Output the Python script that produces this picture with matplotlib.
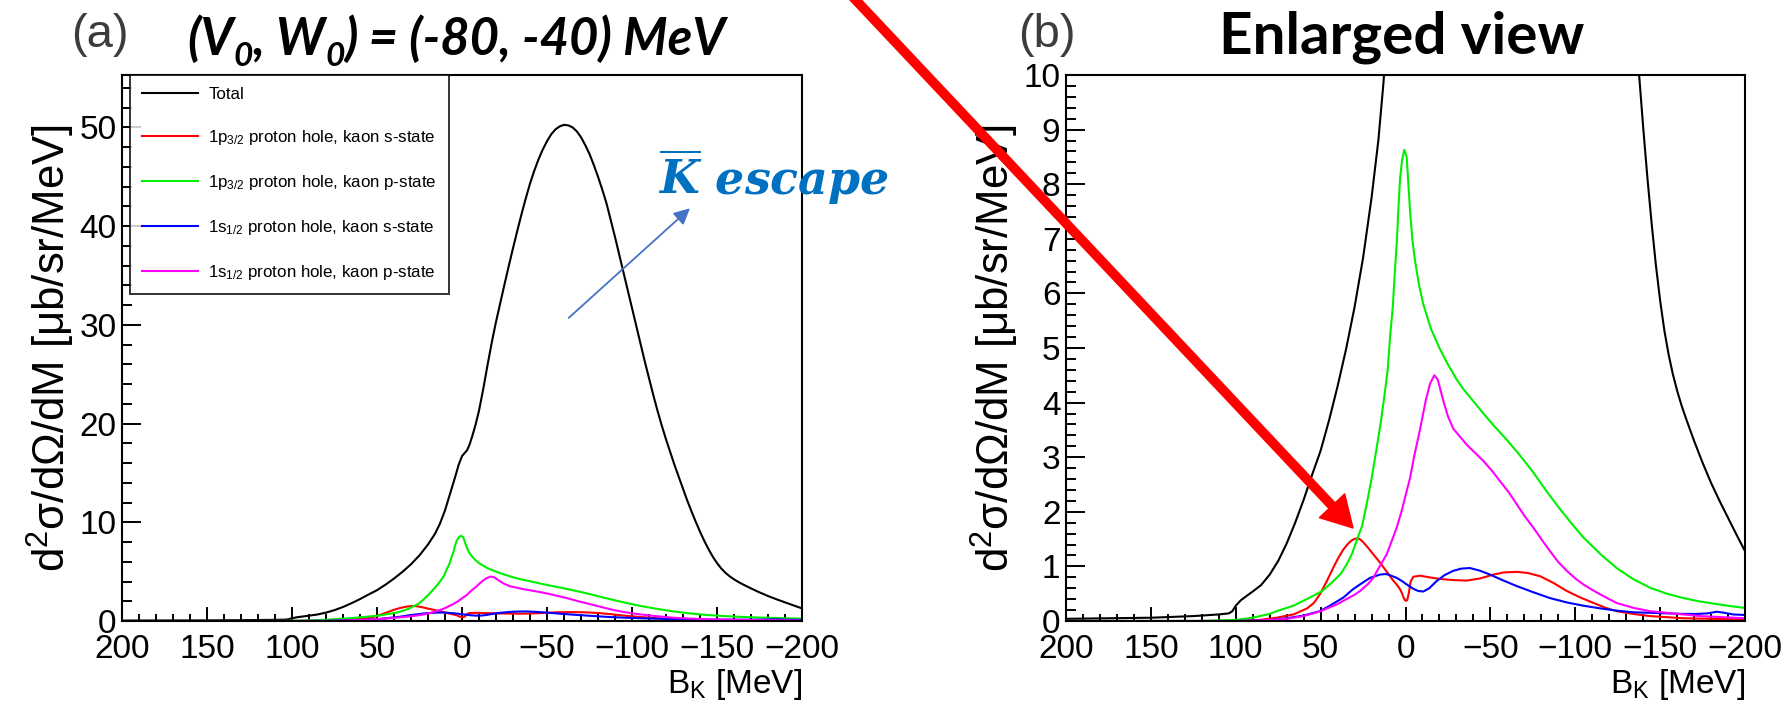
import numpy as np
import matplotlib
matplotlib.use("Agg")
import matplotlib.pyplot as plt
from matplotlib.patches import FancyArrowPatch, ArrowStyle
from matplotlib.ticker import MultipleLocator

plt.rcParams.update({
    "font.family": ["Liberation Sans", "DejaVu Sans"],
    "mathtext.fontset": "custom",
    "mathtext.rm": "Liberation Sans",
    "mathtext.it": "Liberation Sans:italic",
    "mathtext.bf": "Liberation Sans:bold",
    "mathtext.sf": "Liberation Sans",
    "mathtext.bfit": "DejaVu Serif:italic:bold",
})

# ---------------- data: kaon binding energy B_K [MeV] vs d2sigma/dOmega/dM ----------------
total_b = [200, 175, 150, 125, 110, 104, 102, 100, 97, 94, 90, 85, 80, 75, 70, 65, 60, 55,
           50, 45, 40, 35, 30, 25, 20, 16, 13, 10, 7, 4, 2, 0, -1.5, -3, -4.5, -6, -8, -10,
           -12.5, -15, -17.5, -20, -22.5, -25, -27.5, -30, -32.5, -35, -37.5, -40, -42.5,
           -45, -47.5, -50, -52.5, -55, -57.5, -60, -62.5, -65, -67.5, -70, -72.5, -75,
           -77.5, -80, -82.5, -85, -87.5, -90, -92.5, -95, -97.5, -100, -102.5, -105,
           -107.5, -110, -112.5, -115, -117.5, -120, -122.5, -125, -127.5, -130, -132.5,
           -135, -137.5, -140, -142.5, -145, -147.5, -150, -152.5, -155, -157.5, -160,
           -162.5, -165, -170, -175, -180, -185, -190, -195, -200]
total_v = [0.04, 0.05, 0.06, 0.09, 0.12, 0.14, 0.18, 0.28, 0.38, 0.45, 0.54, 0.66, 0.85,
           1.1, 1.42, 1.8, 2.22, 2.68, 3.12, 3.68, 4.3, 4.98, 5.75, 6.65, 7.75, 8.8, 9.85,
           11.2, 12.9, 14.6, 15.8, 16.7, 17.0, 17.3, 17.9, 18.7, 19.9, 21.3, 23.5, 25.9,
           28.2, 30.3, 32.2, 34.1, 35.95, 37.75, 39.5, 41.2, 42.8, 44.3, 45.6, 46.75, 47.75,
           48.6, 49.3, 49.8, 50.1, 50.25, 50.2, 50.0, 49.6, 49.0, 48.2, 47.3, 46.2, 45.0,
           43.7, 42.3, 40.6, 38.9, 37.1, 35.3, 33.5, 31.7, 29.9, 28.1, 26.3, 24.6, 22.9,
           21.3, 19.8, 18.4, 17.1, 15.8, 14.6, 13.4, 12.2, 11.1, 10.05, 9.05, 8.12, 7.28,
           6.52, 5.87, 5.32, 4.88, 4.52, 4.22, 3.96, 3.73, 3.3, 2.9, 2.53, 2.2, 1.89, 1.58,
           1.28]

p32_s_b = [200, 120, 100, 86, 76, 66, 58, 54, 50.4, 46.5, 42.5, 39.5, 36.6, 34, 32, 30,
           28, 26.5, 24.8, 22, 20, 15, 11, 7.2, 4.5, 3, 2, 1, 0, -1, -2, -3, -4.6, -8.5, -14,
           -20.3, -28, -36, -44, -51.7, -58, -65.5, -72, -79.3, -87, -95, -103, -110.8,
           -118, -124.4, -134, -144, -154, -163.7, -180, -200]
p32_s_v = [0, 0, 0.005, 0.02, 0.06, 0.12, 0.23, 0.33, 0.49, 0.72, 0.98, 1.16, 1.31, 1.41,
           1.47, 1.505, 1.515, 1.49, 1.44, 1.34, 1.26, 1.07, 0.9, 0.74, 0.64, 0.57, 0.5,
           0.42, 0.37, 0.38, 0.52, 0.72, 0.81, 0.83, 0.8, 0.77, 0.75, 0.74, 0.78, 0.85,
           0.89, 0.9, 0.88, 0.82, 0.7, 0.55, 0.43, 0.33, 0.24, 0.18, 0.13, 0.09, 0.07, 0.05,
           0.04, 0.03]

p32_p_b = [200, 150, 120, 110, 100, 90, 80, 75.9, 66, 56.3, 49, 42.5, 38, 34.6, 31.5, 28.8,
           25.5, 22.9, 20, 17, 14.5, 12.1, 10.5, 9.1, 7.5, 6.2, 5, 4.2, 3.2, 2, 0.7, -0.7,
           -1.7, -2.7, -4, -5.6, -8, -10.5, -15, -20.3, -25, -30.2, -34, -38, -45.9, -52,
           -59.6, -67, -75.3, -83, -91, -98, -104.8, -115, -124.4, -134, -144, -154, -163.7,
           -173, -183.3, -192, -200]
p32_p_v = [0, 0, 0, 0.01, 0.02, 0.06, 0.13, 0.18, 0.28, 0.43, 0.55, 0.73, 0.87, 1.04, 1.23,
           1.47, 1.75, 2.14, 2.6, 3.17, 3.65, 4.2, 4.6, 5.2, 5.75, 6.43, 7.0, 7.55, 8.1, 8.45,
           8.63, 8.5, 8.0, 7.5, 7.0, 6.6, 6.15, 5.8, 5.35, 4.98, 4.7, 4.42, 4.25, 4.1, 3.8,
           3.58, 3.32, 3.05, 2.72, 2.38, 2.05, 1.78, 1.53, 1.22, 0.97, 0.77, 0.61, 0.5, 0.42,
           0.36, 0.31, 0.27, 0.24]

s12_s_b = [200, 120, 100, 82, 70, 60, 50.4, 44, 36.6, 31, 26.8, 20.9, 15, 12, 10.1, 5.2, 2,
           -0.7, -2.7, -4.6, -7.5, -10.5, -14, -18.3, -23, -28.2, -33, -38, -44, -49.8, -57,
           -65.5, -75, -85.1, -95, -104.8, -115, -124.4, -134, -144, -154, -163.7, -172,
           -178, -183.3, -188, -193, -200]
s12_s_v = [0, 0, 0, 0.01, 0.05, 0.1, 0.18, 0.29, 0.43, 0.58, 0.67, 0.79, 0.85, 0.86, 0.85,
           0.79, 0.73, 0.67, 0.63, 0.59, 0.55, 0.54, 0.6, 0.73, 0.84, 0.92, 0.96, 0.97, 0.92,
           0.85, 0.75, 0.64, 0.53, 0.42, 0.34, 0.28, 0.23, 0.19, 0.16, 0.15, 0.14, 0.13, 0.13,
           0.14, 0.17, 0.15, 0.12, 0.11]

s12_p_b = [200, 120, 100, 85, 70, 60, 50, 40, 36.6, 30, 26.8, 22, 19, 14.3, 11.1, 8.3, 5.2,
           2.4, -0.7, -2.7, -5, -8.5, -12, -14.5, -17, -19, -22.3, -25, -28.2, -32, -36, -41,
           -45.9, -51, -55.7, -61, -65.5, -70, -75.3, -80, -85.1, -90, -95, -100, -104.8,
           -110, -114.6, -120, -124.4, -134.3, -144, -153.9, -173.5, -200]
s12_p_v = [0, 0, 0, 0.01, 0.04, 0.09, 0.18, 0.31, 0.37, 0.48, 0.55, 0.68, 0.79, 1.05, 1.22,
           1.45, 1.71, 2.0, 2.38, 2.62, 3.0, 3.5, 4.05, 4.35, 4.5, 4.42, 4.03, 3.75, 3.52,
           3.38, 3.23, 3.08, 2.93, 2.75, 2.56, 2.35, 2.14, 1.93, 1.71, 1.5, 1.28, 1.08, 0.92,
           0.78, 0.67, 0.57, 0.49, 0.4, 0.33, 0.24, 0.18, 0.15, 0.09, 0.05]

series = [
    ("Total", total_b, total_v, "black"),
    (r"1p$_{\mathrm{3/2}}$ proton hole, kaon s-state", p32_s_b, p32_s_v, "#ff0000"),
    (r"1p$_{\mathrm{3/2}}$ proton hole, kaon p-state", p32_p_b, p32_p_v, "#00f000"),
    (r"1s$_{\mathrm{1/2}}$ proton hole, kaon s-state", s12_s_b, s12_s_v, "#0000ff"),
    (r"1s$_{\mathrm{1/2}}$ proton hole, kaon p-state", s12_p_b, s12_p_v, "#ff00ff"),
]

x_ticks = [200, 150, 100, 50, 0, -50, -100, -150, -200]

# ---------------- figure ----------------
W, H = 1788, 713
fig = plt.figure(figsize=(W / 100, H / 100), dpi=100, facecolor="white")


def px(x, y):
    return x / W, 1 - y / H


ax1 = fig.add_axes([122 / W, 1 - 621 / H, 680 / W, 546 / H])
ax2 = fig.add_axes([1066 / W, 1 - 621 / H, 679 / W, 546 / H])

ylab = r"d$^{2}$σ/dΩ/dM [μb/sr/MeV]"
xlab = r"B$_{\mathrm{K}}$ [MeV]"


def style(ax, ymax, major, minor):
    ax.set_xlim(200, -200)
    ax.set_ylim(0, ymax)
    ax.set_xticks(x_ticks)
    ax.xaxis.set_minor_locator(MultipleLocator(10))
    ax.yaxis.set_major_locator(MultipleLocator(major))
    ax.yaxis.set_minor_locator(MultipleLocator(minor))
    ax.tick_params(which="both", direction="in", top=False, right=False,
                   labelsize=24, width=1.4, color="black")
    ax.tick_params(axis="x", which="major", length=10, pad=9)
    ax.tick_params(axis="x", which="minor", length=5)
    ax.tick_params(axis="y", which="major", length=14, pad=4)
    ax.tick_params(axis="y", which="minor", length=7)
    for sp in ax.spines.values():
        sp.set_linewidth(1.5)
    ax.set_ylabel(ylab, fontsize=31.5, labelpad=2)
    ax.set_xlabel(xlab, fontsize=24, loc="right", labelpad=2)


for ax in (ax1, ax2):
    for label, b, v, c in series:
        ax.plot(b, v, color=c, lw=1.5, label=label)

style(ax1, 55.3, 10, 2)
style(ax2, 10, 1, 0.2)

leg = ax1.legend(loc="upper left", bbox_to_anchor=(0.012, 1.0), borderaxespad=0,
                 fontsize=12.2, frameon=True, fancybox=False, edgecolor="black",
                 handlelength=3.3, handletextpad=0.6, labelspacing=1.53, borderpad=0.72)
leg.get_frame().set_linewidth(1.4)

# ---------------- panel titles ----------------
fig.text(*px(71, 35), "(a)", fontsize=34, color="#3c3c3c", va="center", ha="left")
fig.text(*px(1018, 35), "(b)", fontsize=34, color="#3c3c3c", va="center", ha="left")

tkw = dict(family="Lato", weight="bold", style="italic", color="black")
main_fs, sub_fs = 36.5, 24
t1 = fig.text(*px(187, 55), "(V", fontsize=main_fs, va="baseline", ha="left", **tkw)
s1 = ax1.annotate("0", xy=(1, 0), xycoords=t1, xytext=(0, -5), textcoords="offset points",
                  fontsize=sub_fs, va="bottom", ha="left", annotation_clip=False, **tkw)
t2 = ax1.annotate(", W", xy=(1, 0), xycoords=(s1, t1), fontsize=main_fs, va="bottom",
                  ha="left", annotation_clip=False, **tkw)
s2 = ax1.annotate("0", xy=(1, 0), xycoords=t2, xytext=(0, -5), textcoords="offset points",
                  fontsize=sub_fs, va="bottom", ha="left", annotation_clip=False, **tkw)
ax1.annotate(") = (-80, -40) MeV", xy=(1, 0), xycoords=(s2, t2), fontsize=main_fs,
             va="bottom", ha="left", annotation_clip=False, **tkw)

fig.text(*px(1219, 54), "Enlarged view", fontsize=42, family="Lato", weight="bold",
         color="black", va="baseline", ha="left")

# ---------------- annotations ----------------
fig.text(*px(658, 195), r"$\mathbfit{\overline{K}}$ escape", fontsize=33,
         family="DejaVu Serif", weight="bold", style="italic", color="#0070c0",
         va="baseline", ha="left")
ax1.annotate("", xy=(-134.1, 41.8), xytext=(-62.8, 30.7),
             arrowprops=dict(arrowstyle="-|>", color="#4472c4", lw=1.3, mutation_scale=24,
                             shrinkA=0, shrinkB=0))

red_arrow = FancyArrowPatch(px(851, -5), px(1353, 528), transform=fig.transFigure,
                            arrowstyle=ArrowStyle("simple", head_length=22, head_width=25,
                                                  tail_width=6),
                            mutation_scale=1, color="#ff0000", shrinkA=0, shrinkB=0,
                            zorder=10)
fig.add_artist(red_arrow)

fig.savefig("out.png", dpi=100, facecolor="white")
